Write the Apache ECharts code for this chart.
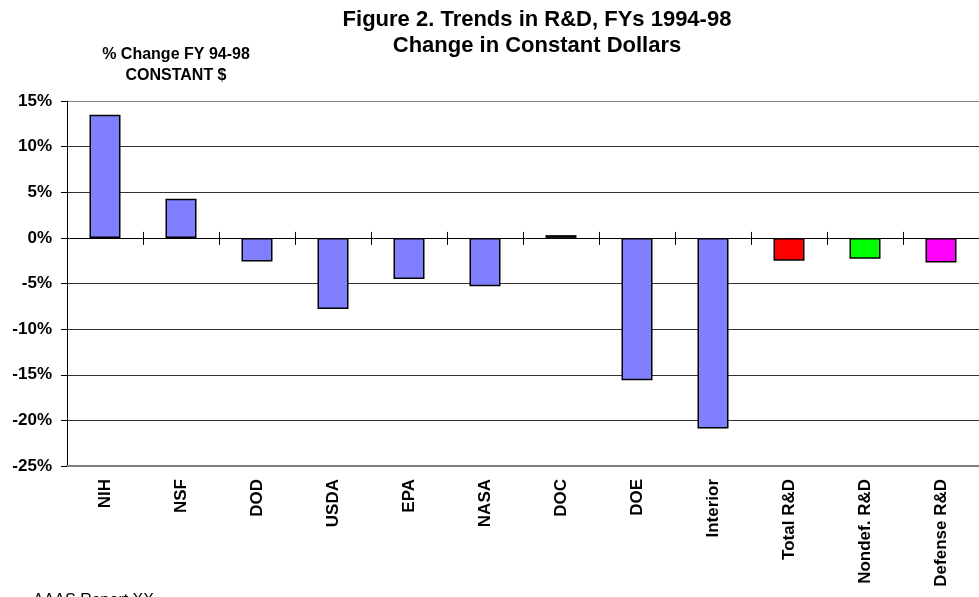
<!DOCTYPE html>
<html>
<head>
<meta charset="utf-8">
<script src="https://cdn.jsdelivr.net/npm/echarts@6/dist/echarts.min.js"></script>
<style>
  html, body { margin: 0; padding: 0; background: #fff; }
  #chart { width: 979px; height: 597px; }
</style>
</head>
<body>
<div id="chart"></div>
<script>
const categories = ['NIH', 'NSF', 'DOD', 'USDA', 'EPA', 'NASA', 'DOC', 'DOE', 'Interior', 'Total R&D', 'Nondef. R&D', 'Defense R&D'];
const pctChange = [13.5, 4.3, -2.6, -7.8, -4.5, -5.3, 0.3, -15.6, -20.9, -2.5, -2.3, -2.7];
const barColors = ['#8080FF', '#8080FF', '#8080FF', '#8080FF', '#8080FF', '#8080FF', '#8080FF', '#8080FF', '#8080FF', '#FF0000', '#00FF00', '#FF00FF'];
const yTicks = [-25, -20, -15, -10, -5, 0, 5, 10, 15];

const FONT = '"Liberation Sans", Arial, sans-serif';

// grid line colours, one per y tick (bottom to top)
const gridColors = yTicks.map((v, i) => {
  if (i === 0 || i === yTicks.length - 1) return '#808080';
  return v === 0 ? '#000' : '#333';
});

// tick marks crossing the zero line, between categories
const zeroTicks = categories.slice(1).map((c, i) => [i + 1]);

const chart = echarts.init(document.getElementById('chart'));

const option = {
  animation: false,
  backgroundColor: '#fff',
  textStyle: {fontFamily: FONT},
  title: [
    {
      text: 'Figure 2. Trends in R&D, FYs 1994-98\nChange in Constant Dollars',
      left: 532,
      top: 2,
      textAlign: 'center',
      textStyle: {fontFamily: FONT, fontSize: 22, fontWeight: 'bold', color: '#000', lineHeight: 26}
    },
    {
      text: '% Change FY 94-98\nCONSTANT $',
      left: 171,
      top: 39,
      textAlign: 'center',
      textStyle: {fontFamily: FONT, fontSize: 16, fontWeight: 'bold', color: '#000', lineHeight: 21}
    }
  ],
  graphic: [
    {
      type: 'text',
      left: 33, top: 593,
      style: {text: 'AAAS Report XX', fontFamily: 'Liberation Sans', fontSize: 16, fill: '#000'}
    }
  ],
  grid: {left: 67, right: 0, top: 101, bottom: 131, containLabel: false},
  xAxis: {
    type: 'category',
    data: categories,
    position: 'bottom',
    axisLine: {onZero: false, lineStyle: {color: '#808080', width: 2}},
    axisTick: {show: false},
    axisLabel: {
      rotate: 90, margin: 13, interval: 0,
      fontFamily: FONT, fontSize: 17, fontWeight: 'bold', color: '#000'
    }
  },
  yAxis: {
    type: 'value',
    min: yTicks[0],
    max: yTicks[yTicks.length - 1],
    interval: 5,
    axisLine: {show: true, lineStyle: {color: '#000', width: 1}},
    axisTick: {show: true, length: 6, lineStyle: {color: '#000'}},
    axisLabel: {
      formatter: (v) => v + '%',
      margin: 15,
      fontFamily: FONT, fontSize: 17, fontWeight: 'bold', color: '#000'
    },
    splitLine: {show: true, lineStyle: {color: gridColors, width: 1}}
  },
  series: [
    {
      type: 'bar',
      barWidth: 31,
      data: pctChange.map((v, i) => ({
        value: v,
        itemStyle: {color: barColors[i], borderColor: '#000', borderWidth: 1.5}
      }))
    },
    {
      type: 'custom',
      silent: true,
      z: 5,
      data: zeroTicks,
      renderItem: (params, api) => {
        const c = api.coord([api.value(0), 0]);
        const w = api.size([1, 0])[0];
        const x = Math.round(c[0] - w / 2) + 0.5;
        return {
          type: 'line',
          shape: {x1: x, y1: c[1] - 6, x2: x, y2: c[1] + 7},
          style: {stroke: '#000', lineWidth: 1}
        };
      }
    }
  ]
};

chart.setOption(option);
</script>
</body>
</html>
